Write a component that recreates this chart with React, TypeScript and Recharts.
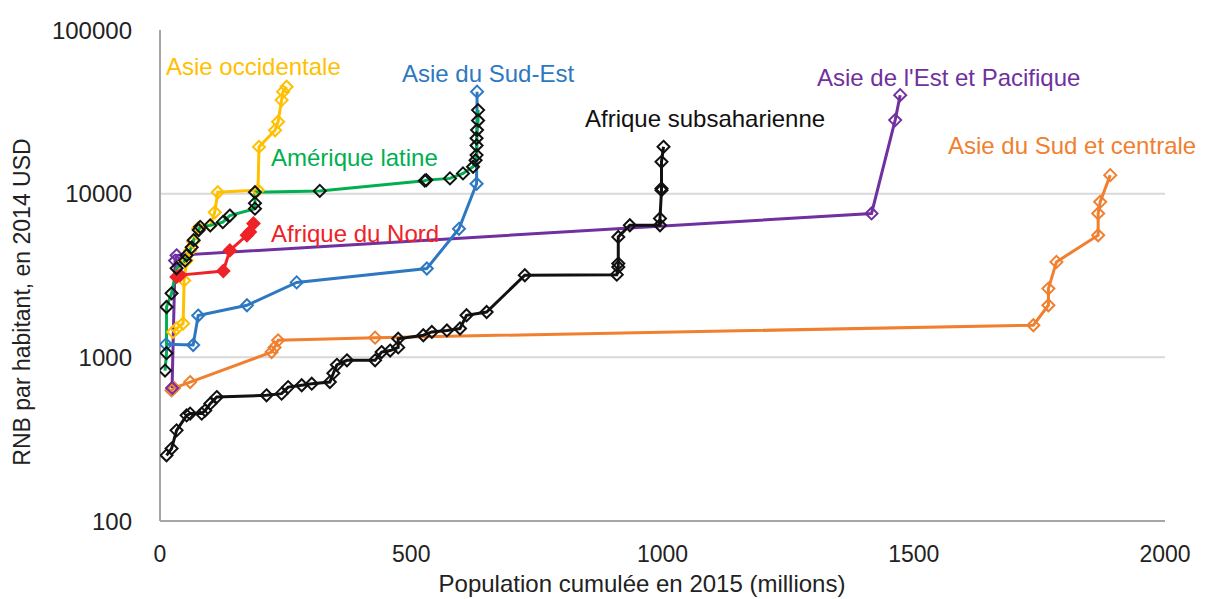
import { LineChart, Line, XAxis, YAxis, CartesianGrid } from "recharts";

// cumulative population (millions) and GNI per capita (2014 USD), per region
const westAsiaPop = [26, 33, 46, 48, 53, 60, 66, 76, 100, 109, 115, 195, 197, 229, 235, 242, 245, 252];
const westAsiaGni = [1430, 1500, 1610, 2950, 3900, 4500, 5100, 6150, 6400, 7700, 10200, 10500, 19300, 24400, 27500, 37300, 42000, 45000];

const latamPop = [10, 13, 13, 23, 33, 50, 53, 63, 67, 77, 80, 100, 125, 139, 189, 189, 189, 318, 527, 530, 577, 603, 623, 628, 630, 630, 630, 631, 633, 633];
const latamGni = [830, 1060, 2030, 2460, 3500, 3900, 4200, 4700, 5200, 6000, 6270, 6400, 6700, 7350, 8100, 8750, 10200, 10400, 12000, 12100, 12400, 13300, 14600, 16000, 17200, 19700, 21800, 24500, 28000, 32400];

const northAfricaPop = [33, 40, 126, 139, 173, 179, 186];
const northAfricaGni = [3100, 3180, 3370, 4500, 5570, 5840, 6570];

const eastAsiaPop = [24, 30, 33, 1416, 1463, 1473];
const eastAsiaGni = [650, 3900, 4200, 7570, 28150, 40000];

const seAsiaPop = [12, 66, 76, 173, 272, 531, 595, 630, 631];
const seAsiaGni = [1200, 1190, 1800, 2080, 2870, 3490, 6100, 11500, 42000];

const southAsiaPop = [23, 28, 60, 222, 228, 235, 428, 1738, 1768, 1768, 1784, 1867, 1867, 1871, 1891];
const southAsiaGni = [628, 650, 706, 1077, 1150, 1270, 1319, 1570, 2080, 2630, 3830, 5570, 7570, 8910, 12980];

const ssaPop = [13, 23, 33, 53, 60, 83, 90, 100, 113, 212, 242, 255, 282, 302, 338, 345, 352, 372, 428, 441, 458, 474, 474, 524, 541, 571, 597, 610, 650, 726, 909, 912, 912, 912, 935, 995, 995, 998, 998, 998, 1002];
const ssaGni = [252, 277, 358, 442, 453, 453, 474, 521, 572, 586, 600, 658, 675, 690, 706, 800, 900, 959, 959, 1077, 1100, 1150, 1300, 1364, 1429, 1460, 1500, 1807, 1892, 3175, 3200, 3565, 3740, 5440, 6415, 6415, 7050, 10500, 10760, 15650, 19330];

const xTicks = [0, 500, 1000, 1500, 2000];
const yTicks = [100, 1000, 10000, 100000];
const gridValues = [1000, 10000];

const zip = (pop: number[], gni: number[]) => pop.map((x, i) => ({ x, y: gni[i] }));

const series = [
  { name: "Asie du Sud et centrale", data: zip(southAsiaPop, southAsiaGni), color: "#F07F2F", marker: "#F07F2F", fill: "none" },
  { name: "Asie de l'Est et Pacifique", data: zip(eastAsiaPop, eastAsiaGni), color: "#7030A0", marker: "#7030A0", fill: "none" },
  { name: "Asie occidentale", data: zip(westAsiaPop, westAsiaGni), color: "#FFC000", marker: "#FFC000", fill: "none" },
  { name: "Afrique du Nord", data: zip(northAfricaPop, northAfricaGni), color: "#EE2227", marker: "#EE2227", fill: "#EE2227" },
  { name: "Asie du Sud-Est", data: zip(seAsiaPop, seAsiaGni), color: "#2E78C2", marker: "#2E78C2", fill: "none" },
  { name: "Amérique latine", data: zip(latamPop, latamGni), color: "#00B050", marker: "#111111", fill: "none" },
  { name: "Afrique subsaharienne", data: zip(ssaPop, ssaGni), color: "#111111", marker: "#111111", fill: "none" },
];

const labels = [
  { text: "Asie occidentale", left: 166, base: 75, color: "#FFC000" },
  { text: "Asie du Sud-Est", left: 402, base: 82, color: "#2E78C2" },
  { text: "Asie de l'Est et Pacifique", left: 817, base: 86, color: "#7030A0" },
  { text: "Afrique subsaharienne", left: 585, base: 127, color: "#111111" },
  { text: "Asie du Sud et centrale", left: 948, base: 154, color: "#F07F2F" },
  { text: "Amérique latine", left: 271, base: 166, color: "#00B050" },
  { text: "Afrique du Nord", left: 271, base: 242, color: "#EE2227" },
];

const font = "'Liberation Sans', Arial, sans-serif";

const diamond = (stroke: string, fill: string) => (props: any) => {
  const { cx, cy, index } = props;
  if (cx == null || cy == null) return <g key={`e-${index}`} />;
  const r = 6;
  return (
    <path
      key={`d-${index}`}
      d={`M${cx},${cy - r}L${cx + r},${cy}L${cx},${cy + r}L${cx - r},${cy}Z`}
      stroke={stroke}
      strokeWidth={2}
      fill={fill}
    />
  );
};

export default function App() {
  return (
    <div style={{ position: "absolute", left: 0, top: 0, width: 1207, height: 599, background: "#fff", fontFamily: font }}>
      <LineChart width={1207} height={599} margin={{ top: 30, right: 42, bottom: 0, left: 0 }}>
        <CartesianGrid horizontal vertical={false} horizontalValues={gridValues} stroke="#d9d9d9" strokeWidth={2} />
        <XAxis
          type="number"
          dataKey="x"
          domain={[0, 2000]}
          ticks={xTicks}
          allowDataOverflow
          height={78}
          tickLine={false}
          tickMargin={19}
          axisLine={{ stroke: "#a6a6a6", strokeWidth: 2 }}
          tick={{ fill: "#222", fontSize: 23, fontFamily: font }}
        />
        <YAxis
          type="number"
          dataKey="y"
          scale="log"
          domain={[100, 100000]}
          ticks={yTicks}
          allowDataOverflow
          width={160}
          tickLine={false}
          tickMargin={22}
          axisLine={{ stroke: "#a6a6a6", strokeWidth: 2 }}
          tick={{ fill: "#222", fontSize: 24, fontFamily: font }}
        />
        {series.map((s) => (
          <Line
            key={s.name}
            data={s.data}
            dataKey="y"
            type="linear"
            stroke={s.color}
            strokeWidth={3}
            dot={diamond(s.marker, s.fill)}
            activeDot={false}
            isAnimationActive={false}
          />
        ))}
      </LineChart>
      {labels.map((l) => (
        <div
          key={l.text}
          style={{ position: "absolute", left: l.left, top: l.base - 20, fontSize: 24, lineHeight: "24px", color: l.color, whiteSpace: "nowrap" }}
        >
          {l.text}
        </div>
      ))}
      <div style={{ position: "absolute", left: 0, width: 1284, top: 572, textAlign: "center", fontSize: 24, lineHeight: "24px", color: "#222", whiteSpace: "nowrap" }}>
        Population cumulée en 2015 (millions)
      </div>
      <div
        style={{
          position: "absolute",
          left: 22,
          top: 302,
          transform: "translate(-50%, -50%) rotate(-90deg)",
          fontSize: 23,
          lineHeight: "23px",
          color: "#222",
          whiteSpace: "nowrap",
        }}
      >
        RNB par habitant, en 2014 USD
      </div>
    </div>
  );
}
